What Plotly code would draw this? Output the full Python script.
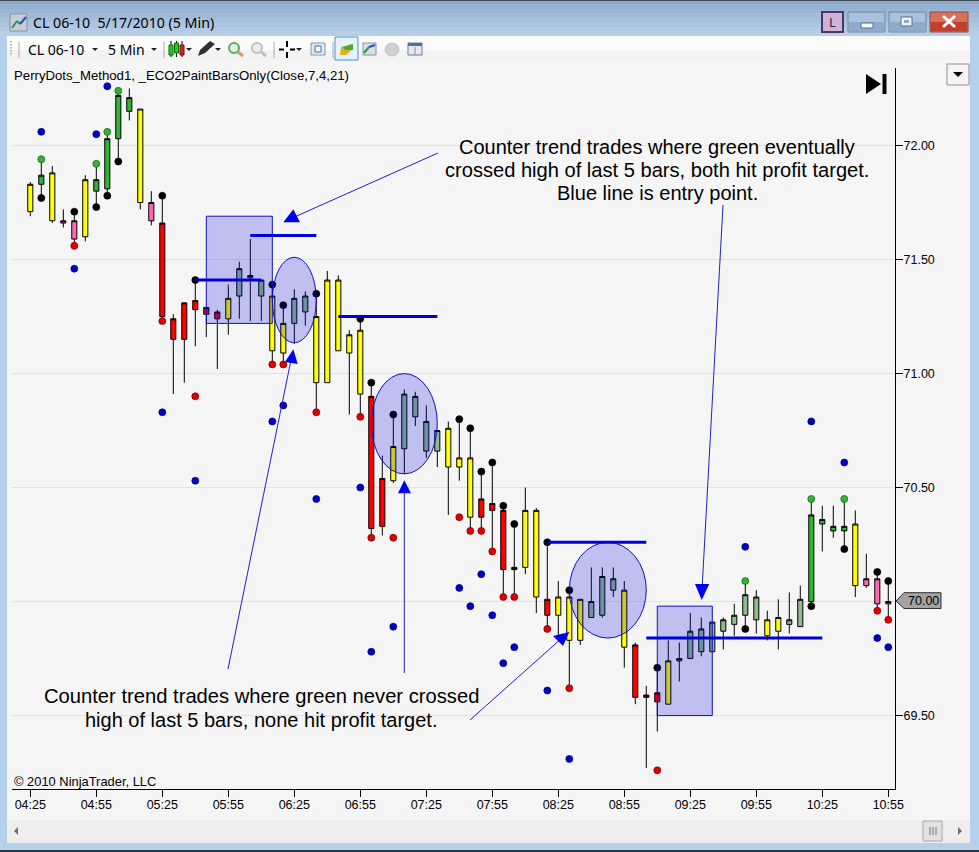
import plotly.graph_objects as go

W, H = 979, 852

# bars, 5 min each, first bar is 04:25
bar_colors = list("ygyppygggg" "yprrrrrrys" "ssyyssyyyy" "yrrysssSyy".lower() + "yrrrryyryy" "ysssyrrrys" "sssssssyys" "sggggyppp")
body_top = [71.83, 71.87, 71.88, 71.67, 71.67, 71.85, 71.85, 72.03, 72.22, 72.21,
            72.16, 71.75, 71.66, 71.24, 71.31, 71.32, 71.29, 71.27, 71.33, 71.46,
            71.43, 71.41, 71.34, 71.22, 71.33, 71.34, 71.25, 71.41, 71.41, 71.17,
            71.19, 70.90, 70.54, 70.68, 70.91, 70.90, 70.79, 70.75, 70.76, 70.63,
            70.63, 70.45, 70.43, 70.40, 70.15, 70.40, 70.40, 70.01, 70.02, 70.02,
            70.01, 70.00, 70.11, 70.10, 70.05, 69.81, 69.59, 69.60, 69.74, 69.75,
            69.87, 69.88, 69.91, 69.92, 69.94, 70.03, 70.02, 69.92, 69.93, 69.92,
            70.01, 70.38, 70.36, 70.33, 70.33, 70.34, 70.10, 70.10, 70.00]
body_bottom = [71.71, 71.83, 71.67, 71.66, 71.59, 71.60, 71.80, 71.81, 72.03, 72.15,
               71.75, 71.67, 71.25, 71.15, 71.15, 71.28, 71.26, 71.24, 71.24, 71.34,
               71.42, 71.34, 71.10, 71.09, 71.22, 71.27, 70.96, 70.96, 71.10, 71.09,
               70.91, 70.32, 70.33, 70.53, 70.67, 70.81, 70.66, 70.66, 70.59, 70.59,
               70.37, 70.37, 70.40, 70.14, 70.14, 70.15, 70.02, 69.94, 69.94, 69.83,
               69.83, 69.93, 69.94, 70.05, 69.80, 69.58, 69.58, 69.56, 69.55, 69.74,
               69.75, 69.78, 69.78, 69.87, 69.90, 69.94, 69.92, 69.85, 69.87, 69.90,
               69.89, 70.00, 70.34, 70.31, 70.31, 70.07, 70.07, 69.99, 69.99]
highs = [71.84, 71.94, 71.91, 71.72, 71.71, 71.87, 71.92, 72.06, 72.24, 72.25,
         72.16, 71.80, 71.78, 71.26, 71.31, 71.41, 71.29, 71.28, 71.39, 71.49,
         71.59, 71.41, 71.39, 71.30, 71.37, 71.36, 71.35, 71.45, 71.43, 71.19,
         71.24, 70.96, 70.64, 70.82, 70.93, 70.92, 70.86, 70.75, 70.79, 70.80,
         70.76, 70.57, 70.61, 70.42, 70.34, 70.50, 70.41, 70.26, 70.09, 70.05,
         70.01, 70.15, 70.15, 70.15, 70.09, 69.82, 69.63, 69.71, 69.83, 69.82,
         69.95, 69.93, 69.91, 69.93, 69.99, 70.09, 70.05, 69.96, 70.01, 70.04,
         70.07, 70.45, 70.42, 70.42, 70.45, 70.40, 70.21, 70.13, 70.09]
lows = [71.69, 71.77, 71.66, 71.64, 71.56, 71.58, 71.73, 71.78, 71.93, 72.11,
        71.72, 71.65, 71.23, 70.91, 70.96, 71.12, 71.16, 71.02, 71.17, 71.24,
        71.23, 71.23, 71.04, 71.04, 71.13, 71.21, 70.83, 70.96, 71.10, 70.82,
        70.81, 70.28, 70.29, 70.52, 70.56, 70.77, 70.63, 70.59, 70.38, 70.53,
        70.31, 70.31, 70.22, 70.02, 70.02, 70.12, 69.95, 69.88, 69.85, 69.62,
        69.81, 69.93, 69.93, 70.02, 69.71, 69.55, 69.27, 69.43, 69.55, 69.65,
        69.75, 69.76, 69.78, 69.79, 69.85, 69.88, 69.86, 69.83, 69.79, 69.86,
        69.89, 69.98, 70.22, 70.28, 70.23, 70.02, 70.06, 69.96, 69.92]

# PerryDots, bar number and price
black_x = [1, 4, 6, 7, 8, 12, 15, 22, 23, 26, 30, 31, 33, 39, 40, 41, 42, 43, 44, 47, 49, 57, 65, 71, 74, 77, 78]
black_y = [71.77, 71.71, 71.73, 71.78, 71.93, 71.78, 71.41, 71.39, 71.30, 71.35, 71.24, 70.96, 70.82, 70.80,
           70.76, 70.57, 70.61, 70.42, 70.34, 70.26, 70.05, 69.71, 69.88, 69.98, 70.23, 70.13, 70.09]
green_x = [1, 6, 7, 8, 65, 71, 74]
green_y = [71.94, 71.92, 72.06, 72.24, 70.09, 70.45, 70.45]
red_x = [4, 12, 15, 22, 23, 26, 30, 31, 33, 39, 40, 41, 42, 43, 44, 47, 49, 57, 77, 78]
red_y = [71.56, 71.23, 70.90, 71.04, 71.04, 70.83, 70.81, 70.28, 70.28, 70.37, 70.31, 70.31, 70.22, 70.02,
         70.02, 69.88, 69.62, 69.26, 69.96, 69.92]
blue_x = [1, 4, 6, 7, 12, 15, 22, 23, 26, 30, 31, 33, 39, 40, 41, 42, 43, 44, 47, 49, 65, 71, 74, 77, 78]
blue_y = [72.06, 71.46, 72.05, 72.26, 70.83, 70.53, 70.79, 70.86, 70.45, 70.50, 69.78, 69.89, 70.06, 69.98,
          70.12, 69.94, 69.73, 69.80, 69.61, 69.31, 70.24, 70.79, 70.61, 69.84, 69.80]

time_ticks = list(range(0, 79, 6))
time_labels = ["04:25", "04:55", "05:25", "05:55", "06:25", "06:55", "07:25", "07:55",
               "08:25", "08:55", "09:25", "09:55", "10:25", "10:55"]
price_ticks = [72.0, 71.5, 71.0, 70.5, 70.0, 69.5]
price_labels = ["72.00", "71.50", "71.00", "70.50", "", "69.50"]

# things drawn by hand on the chart: first bar, last bar, price(s)
entry_lines = [(15, 21, 71.41), (20, 26, 71.605), (28, 37, 71.25), (47, 56, 70.26), (56, 72, 69.84)]
boxes = [(16, 22, 71.69, 71.22), (57, 62, 69.98, 69.50)]
circles = [(22, 26, 71.51, 71.135), (31, 37, 71.00, 70.56), (49, 56, 70.26, 69.84)]

COLORS = {"y": "#ffff00", "g": "#32b432", "r": "#ff0000", "p": "#ff69b4", "s": "#8fbc8f"}


def fx(x):
    return x / W


def fy(y):
    return 1 - y / H


shapes = []
notes = []


def rect(x0, y0, x1, y1, fill, line=None, lw=1, layer="below"):
    shapes.append(dict(type="rect", xref="paper", yref="paper", x0=fx(x0), x1=fx(x1), y0=fy(y0), y1=fy(y1),
                       fillcolor=fill, line=dict(color=line or fill, width=lw if line else 0), layer=layer))


def seg(x0, y0, x1, y1, color, lw=1, layer="below"):
    shapes.append(dict(type="line", xref="paper", yref="paper", x0=fx(x0), x1=fx(x1), y0=fy(y0), y1=fy(y1),
                       line=dict(color=color, width=lw), layer=layer))


def poly(points, fill, line=None, layer="above"):
    path = "M " + " L ".join(f"{fx(x):.5f},{fy(y):.5f}" for x, y in points) + " Z"
    shapes.append(dict(type="path", xref="paper", yref="paper", path=path, fillcolor=fill,
                       line=dict(color=line or fill, width=1 if line else 0), layer=layer))


def text(s, x, y, size, font="Liberation Sans", anchor="left", color="black"):
    notes.append(dict(text=s, xref="paper", yref="paper", x=fx(x), y=fy(y), xanchor=anchor, yanchor="middle",
                      showarrow=False, align="center", font=dict(family=font, size=size, color=color)))


def arrow(start, tip_line, head):
    seg(start[0], start[1], tip_line[0], tip_line[1], "#2020c8", 1, "above")
    poly(head, "#0000f0")


# window frame
title_colors = ["#8eaacb", "#94b0d0", "#9ab5d4", "#a0bad8", "#a6bfdb", "#acc4df", "#b2c9e3", "#b7cee6"]
rect(0, 0, W, H, "#b5d0ea")
for n, c in enumerate(title_colors):
    rect(0, n * 4.5, W, (n + 1) * 4.5, c)
seg(0, 0.5, W, 0.5, "#404850", 1)
seg(0, 851, W, 851, "#303840", 2)
rect(7, 36, 970, 62, "#fbfbfb")
rect(7, 50, 970, 62, "#f3f3f3")
rect(7, 60, 970, 820, "#f5f5f5")
rect(7, 820, 970, 843, "#ededed")

# title bar buttons
rect(822, 12, 843, 32, "#cdb4d7", "#50326e", 2)
text("L", 832.5, 22, 13, "Noto Sans", "center", "#302040")
for x0, x1 in [(848, 885), (889, 926)]:
    rect(x0, 12, x1, 32, "#a9c1dc", "#6d86a3")
    rect(x0 + 1, 22, x1 - 1, 31, "#8fabca")
rect(930, 12, 968, 32, "#d8705c", "#8c4a42")
rect(931, 22, 967, 31, "#c0402c")
rect(861, 23, 873, 28, "#f4f8fc", "#50708f")
rect(901, 17, 912, 26, "#f0f4f8", "#50708f")
rect(904, 20, 909, 23, "#8fa8c4")
seg(943, 16, 955, 27, "white", 3)
seg(955, 16, 943, 27, "white", 3)

# window icon
rect(10, 14, 27, 31, "#c8cbd8", "#8a90a8")
seg(12, 28, 17, 21, "#20a040", 2)
seg(17, 21, 20, 24, "#20a040", 2)
seg(20, 24, 26, 17, "#2050c0", 2)

# toolbar
for y in range(41, 56, 3):
    rect(10, y, 12, y + 1.5, "#b8b8b8")
for x in [19, 164, 274, 333]:
    seg(x, 42, x, 58, "#a8a8a8")
for x in [95, 154, 189, 218, 299]:
    poly([(x - 3, 48), (x + 3, 48), (x, 51)], "#222222")
seg(171, 41, 171, 57, "black")
seg(176.5, 41, 176.5, 57, "black")
seg(182, 41, 182, 57, "black")
rect(169, 45, 173, 55, "#20d020", "#106010")
rect(174.5, 43, 178.5, 53, "#20d020", "#106010")
rect(180, 45, 184, 55, "#e02020", "#601010")
poly([(198, 56), (200, 50), (210, 41), (215, 44), (205, 53)], "#303030")
for x, c in [(235, "#50b060"), (258, "#c0c0c0")]:
    shapes.append(dict(type="circle", xref="paper", yref="paper", x0=fx(x - 6), x1=fx(x + 4), y0=fy(43), y1=fy(53),
                       fillcolor="#e8f0e8", line=dict(color=c, width=2), layer="below"))
    seg(x + 3, 52, x + 8, 56, "#d8a060" if c != "#c0c0c0" else "#c0c0c0", 3)
seg(287, 41, 287, 47, "black", 2)
seg(287, 52, 287, 58, "black", 2)
seg(279, 49.5, 284, 49.5, "black", 2)
seg(290, 49.5, 295, 49.5, "black", 2)
rect(311, 43, 325, 55, "#dfe8f2", "#8098b8")
rect(315, 46, 321, 52, "#f4f8fc", "#507090")
rect(335, 37, 358, 60, "#e6f2fb", "#4a90c8")
poly([(340, 55), (341, 47), (352, 44), (353, 49), (346, 55)], "#e0b020")
poly([(343, 47), (353, 44), (353, 50), (345, 50)], "#40b040")
rect(363, 43, 376, 55, "#d8deea", "#8a90a8")
seg(364, 53, 369, 47, "#20a040", 2)
seg(369, 47, 375, 45, "#2050c0", 2)
shapes.append(dict(type="circle", xref="paper", yref="paper", x0=fx(385), x1=fx(399), y0=fy(43), y1=fy(56),
                   fillcolor="#cfcfcf", line=dict(color="#c4c4c4", width=1), layer="below"))
rect(408, 43, 422, 55, "#e4e8ee", "#6878a0")
rect(408, 43, 422, 46, "#5070b0")
seg(415, 47, 415, 55, "#8090a8")

# scrollbar
poly([(14, 831), (18, 827), (18, 835)], "#707070", layer="below")
poly([(962, 831), (958, 827), (958, 835)], "#707070", layer="below")
rect(923, 821, 942, 841, "#e2e2e2", "#a8a8a8")
for x in [930, 933, 936]:
    seg(x, 827, x, 835, "#707070")

# price marker and jump button
poly([(896, 601), (904, 592.7), (941, 592.7), (941, 608.5), (904, 608.5)], "#a3a3a3", "#303030")
poly([(866, 74), (866, 94), (881, 84)], "black")
rect(882.5, 74, 886.5, 94, "black", layer="above")
rect(947, 64, 969, 85, "#f4f4f4", "#909090")
poly([(953, 72), (963, 72), (958, 77)], "black")

# drawn boxes, circles, lines
for x0, x1, y0, y1 in boxes:
    shapes.append(dict(type="rect", x0=x0, x1=x1, y0=y0, y1=y1, xref="x", yref="y",
                       fillcolor="rgba(0,0,225,0.22)", line=dict(color="#1010c0", width=1)))
for x0, x1, y0, y1 in circles:
    shapes.append(dict(type="circle", x0=x0, x1=x1, y0=y0, y1=y1, xref="x", yref="y",
                       fillcolor="rgba(0,0,225,0.22)", line=dict(color="#1010c0", width=1)))
for x0, x1, y in entry_lines:
    shapes.append(dict(type="line", x0=x0, x1=x1, y0=y, y1=y, xref="x", yref="y",
                       line=dict(color="#0000dc", width=3)))

arrow((438, 153), (290, 219), [(283.3, 222.3), (300, 222.3), (293.3, 209.3)])
arrow((228, 669), (292, 355), [(285, 362), (297.7, 364), (293.3, 349.3)])
arrow((404.3, 673), (404.3, 490), [(398, 493.3), (411, 493.3), (404.3, 480.3)])
arrow((470, 720), (562, 638), [(553, 636), (569.3, 632), (563, 646)])
arrow((723, 205), (702, 590), [(695, 584), (709.3, 584), (701.7, 600)])

# texts
text("CL 06-10  5/17/2010 (5 Min)", 31, 22, 14.2, "Noto Sans")
text("CL 06-10", 26, 49.5, 14, "Noto Sans")
text("5 Min", 106, 49.5, 14, "Noto Sans")
text("PerryDots_Method1, _ECO2PaintBarsOnly(Close,7,4,21)", 12, 76, 13.2)
text("© 2010 NinjaTrader, LLC", 12, 781.5, 12.9)
text("70.00", 923, 601, 12.5, anchor="center")
text("Counter trend trades where green eventually", 657, 147, 20, anchor="center")
text("crossed high of last 5 bars, both hit profit target.", 657, 170, 20.1, anchor="center")
text("Blue line is entry point.", 657, 193, 20, anchor="center")
text("Counter trend trades where green never crossed", 261, 696, 20.2, anchor="center")
text("high of last 5 bars, none hit profit target.", 261, 720, 20, anchor="center")

fig = go.Figure()

for key, color in COLORS.items():
    idx = [i for i, c in enumerate(bar_colors) if c == key]
    style = dict(fillcolor=color, line=dict(color="black", width=1))
    fig.add_trace(go.Candlestick(
        x=idx,
        open=[body_bottom[i] for i in idx],
        high=[highs[i] for i in idx],
        low=[lows[i] for i in idx],
        close=[body_top[i] for i in idx],
        increasing=style,
        decreasing=style,
        whiskerwidth=0,
        showlegend=False,
    ))

for dot_x, dot_y, color, edge in [(black_x, black_y, "black", "black"),
                                  (green_x, green_y, "#32b432", "#1a5a1a"),
                                  (red_x, red_y, "#e00000", "#700000"),
                                  (blue_x, blue_y, "#0000c8", "#000070")]:
    fig.add_trace(go.Scatter(x=dot_x, y=dot_y, mode="markers", showlegend=False,
                             marker=dict(color=color, size=7, line=dict(color=edge, width=0.7))))

fig.update_layout(
    width=W,
    height=H,
    autosize=False,
    margin=dict(l=0, r=0, t=0, b=0, pad=0, autoexpand=False),
    paper_bgcolor="#f5f5f5",
    plot_bgcolor="rgba(0,0,0,0)",
    boxgap=0.34,
    shapes=shapes,
    annotations=notes,
    xaxis=dict(
        domain=[fx(12), fx(895)],
        range=[-1.664, 78.61],
        rangeslider=dict(visible=False),
        tickvals=time_ticks,
        ticktext=time_labels,
        ticks="outside",
        ticklen=7,
        tickcolor="black",
        showline=True,
        linecolor="black",
        linewidth=1,
        showgrid=False,
        zeroline=False,
        ticklabelstandoff=-3,
        tickfont=dict(family="Liberation Sans", size=12.5, color="black"),
    ),
    yaxis=dict(
        domain=[fy(789), fy(68)],
        range=[69.178, 72.34],
        side="right",
        tickvals=price_ticks,
        ticktext=price_labels,
        ticks="outside",
        ticklen=7,
        tickcolor="black",
        showline=True,
        linecolor="black",
        linewidth=1,
        gridcolor="#e2e2e2",
        gridwidth=1,
        zeroline=False,
        ticklabelstandoff=-2,
        tickfont=dict(family="Liberation Sans", size=12.5, color="black"),
    ),
)

fig.write_html("out.html", config=dict(displayModeBar=False, responsive=False),
               default_width="979px", default_height="852px",
               post_script="document.body.style.margin='0';document.body.style.overflow='hidden';")
